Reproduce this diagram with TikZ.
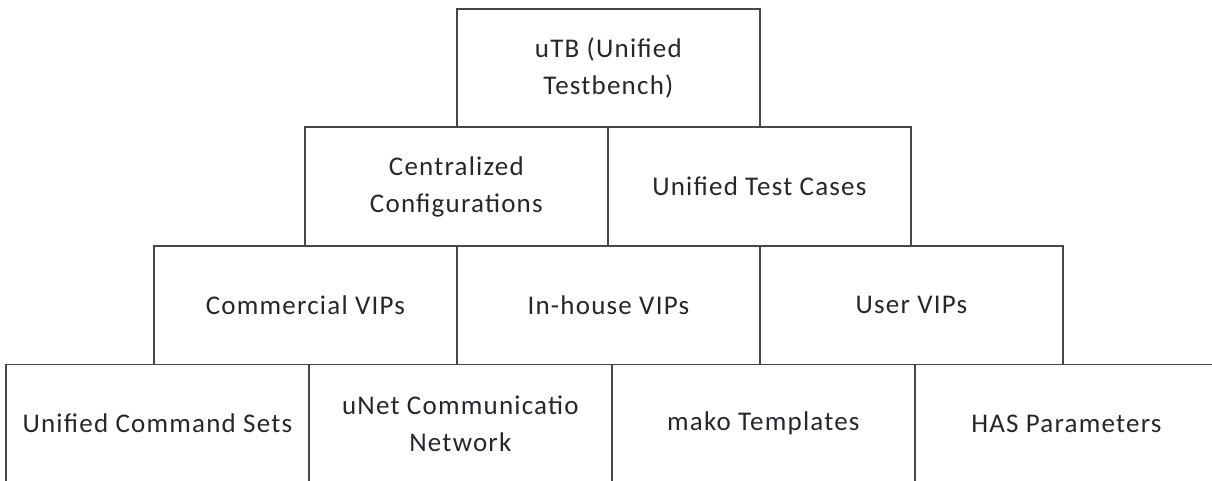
\documentclass[tikz,border=0pt]{standalone}
\usepackage{fontspec}
\setmainfont[LetterSpace=4.5]{Carlito}
\definecolor{edge}{RGB}{70,70,70}
\definecolor{ink}{RGB}{38,38,45}
\begin{document}
\begin{tikzpicture}[x=1pt,y=-1pt,
  cell/.style={draw=edge, line width=1.7pt, minimum width=303pt, minimum height=118.5pt,
    inner sep=0pt, align=center, text=ink, anchor=north west,
    font=\fontsize{27}{37}\selectfont}]
\useasboundingbox (0,0) rectangle (1212,481);
\clip (0,0) rectangle (1212,481);
% top tier
\node[cell] (utb) at (456,8) {uTB (Unified\\Testbench)};
% second tier
\node[cell] (cfg) at (304,126.5) {Centralized\\Configurations};
\node[cell] (utc) at (607,126.5) {Unified Test Cases};
% third tier
\node[cell] (cvip) at (153,245) {Commercial VIPs};
\node[cell] (ivip) at (456,245) {In-house VIPs};
\node[cell] (uvip) at (759,245) {User VIPs};
% base tier
\node[cell] (ucs)  at (5,363.5)   {Unified Command Sets};
\node[cell] (unet) at (308,363.5) {uNet Communicatio\\Network};
\node[cell] (mako) at (611,363.5) {mako Templates};
\node[cell] (has)  at (914,363.5) {HAS Parameters};
\end{tikzpicture}
\end{document}
